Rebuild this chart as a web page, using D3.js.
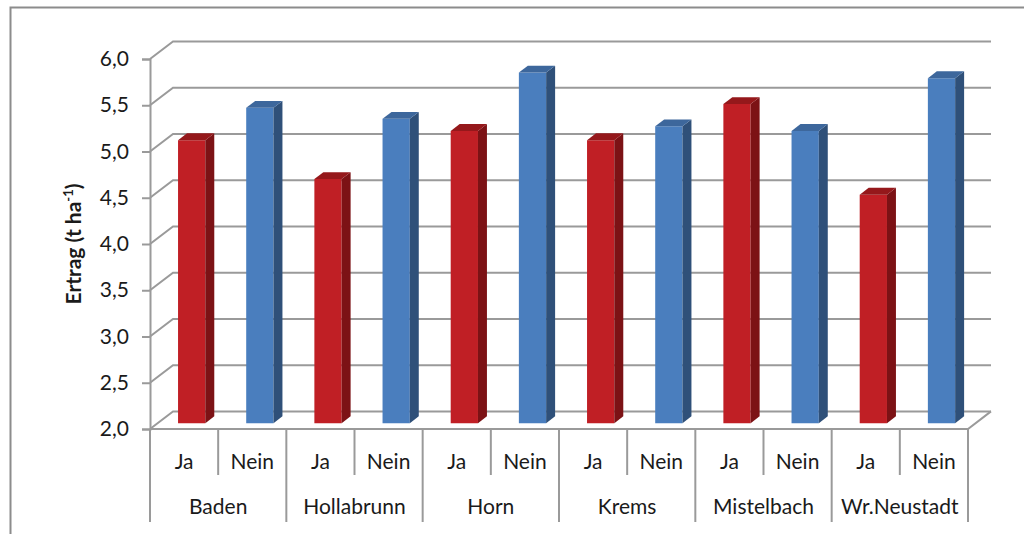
<!DOCTYPE html>
<meta charset="utf-8">
<script src="https://d3js.org/d3.v7.min.js"></script>
<style>
  body { margin: 0; background: #fff; }
  text { font-family: Lato, "Open Sans", sans-serif; fill: #1a1a1a; }
</style>
<div id="chart"></div>
<script>
  // data
  var regions = ["Baden", "Hollabrunn", "Horn", "Krems", "Mistelbach", "Wr.Neustadt"];
  var answers = ["Ja", "Nein"];
  var ertragJa = [5.06, 4.64, 5.16, 5.06, 5.45, 4.47];
  var ertragNein = [5.41, 5.29, 5.79, 5.21, 5.16, 5.73];
  var yTicks = [2.0, 2.5, 3.0, 3.5, 4.0, 4.5, 5.0, 5.5, 6.0];

  var width = 1024, height = 534;
  var svg = d3.select("#chart").append("svg")
    .attr("width", width).attr("height", height);

  // outer frame
  svg.append("path")
    .attr("d", "M10.5," + height + "V7.5H" + width)
    .attr("fill", "none").attr("stroke", "#8c8c8c").attr("stroke-width", 2);

  // plot geometry (front plane)
  var x0 = 150, x1 = 968, yTop = 59, yBot = 429;
  var depthX = 23, depthY = -17.6; // back wall offset

  var y = d3.scaleLinear().domain([2, 6]).range([yBot, yTop]);

  var rows = [];
  regions.forEach(function (r, i) {
    rows.push({ region: r, answer: "Ja", value: ertragJa[i] });
    rows.push({ region: r, answer: "Nein", value: ertragNein[i] });
  });

  var x = d3.scaleBand()
    .domain(d3.range(rows.length))
    .range([x0, x1])
    .paddingInner(0.6).paddingOuter(0.3);
  var slot = d3.scaleBand().domain(d3.range(rows.length)).range([x0, x1]);
  var grp = d3.scaleBand().domain(regions).range([x0, x1]);

  function proj(px, py, f) { return [px + depthX * f, py + depthY * f]; }

  var gridColor = "#9a9a9a";
  var grid = svg.append("g");
  // back wall gridlines with left-side diagonals
  yTicks.forEach(function (t) {
    var p = proj(x0, y(t), 1);
    grid.append("path")
      .attr("d", "M" + x0 + "," + y(t) + "L" + p[0] + "," + p[1] + "H" + (x1 + depthX))
      .attr("fill", "none").attr("stroke", gridColor).attr("stroke-width", 2);
  });
  // floor front edge and right diagonal
  var pr = proj(x1, yBot, 1);
  grid.append("path")
    .attr("d", "M" + x0 + "," + yBot + "H" + x1 + "L" + pr[0] + "," + pr[1])
    .attr("fill", "none").attr("stroke", gridColor).attr("stroke-width", 2);

  // value axis
  var yAxis = svg.append("g")
    .attr("transform", "translate(" + x0 + ",0)")
    .call(d3.axisLeft(y).tickValues(yTicks).tickSize(8).tickPadding(13)
      .tickFormat(function (d) { return d3.format(".1f")(d).replace(".", ","); }));
  yAxis.select(".domain").attr("stroke", gridColor).attr("stroke-width", 2);
  yAxis.selectAll(".tick line").attr("stroke", gridColor).attr("stroke-width", 2);
  yAxis.selectAll(".tick text")
    .style("font-size", "21px").attr("fill", "#1a1a1a")
    .style("font-family", "Lato, sans-serif");

  var title = svg.append("text")
    .attr("transform", "translate(81,244) rotate(-90)")
    .attr("text-anchor", "middle")
    .style("font-size", "21px").style("font-weight", "bold");
  title.append("tspan").text("Ertrag (t ha");
  title.append("tspan").attr("dy", -8).style("font-size", "13px").text("-1");
  title.append("tspan").attr("dy", 8).text(")");

  // bars, drawn as three faces
  var colors = {
    Ja: { front: "#c01f25", side: "#7c1215", top: "#95181b" },
    Nein: { front: "#4a7ebe", side: "#2f5079", top: "#3d679c" }
  };
  var f0 = 0.33, f1 = 0.72;
  var bars = svg.append("g").selectAll("g").data(rows).join("g");
  bars.each(function (d, i) {
    var g = d3.select(this), c = colors[d.answer];
    var bx = x(i), bw = x.bandwidth();
    var a = proj(bx, y(2), f0), b = proj(bx + bw, y(2), f0);
    var at = proj(bx, y(d.value), f0), bt = proj(bx + bw, y(d.value), f0);
    var ct = proj(bx + bw, y(d.value), f1), dt = proj(bx, y(d.value), f1);
    var cb = proj(bx + bw, y(2), f1);
    g.append("path").attr("fill", c.front)
      .attr("d", "M" + a + "L" + b + "L" + bt + "L" + at + "Z");
    g.append("path").attr("fill", c.side)
      .attr("d", "M" + b + "L" + cb + "L" + ct + "L" + bt + "Z");
    g.append("path").attr("fill", c.top)
      .attr("d", "M" + at + "L" + bt + "L" + ct + "L" + dt + "Z");
  });

  // category axis: inner dividers and group dividers
  var cat = svg.append("g");
  rows.forEach(function (d, i) {
    var sx = slot(i);
    if (i % 2 === 1) {
      cat.append("line").attr("x1", sx).attr("x2", sx)
        .attr("y1", yBot).attr("y2", 475)
        .attr("stroke", gridColor).attr("stroke-width", 2);
    }
    cat.append("text")
      .attr("x", sx + slot.bandwidth() / 2).attr("y", 469)
      .attr("text-anchor", "middle").style("font-size", "21px")
      .text(d.answer);
  });
  regions.forEach(function (r) {
    cat.append("line").attr("x1", grp(r)).attr("x2", grp(r))
      .attr("y1", yBot).attr("y2", 522)
      .attr("stroke", gridColor).attr("stroke-width", 2);
    cat.append("text")
      .attr("x", grp(r) + grp.bandwidth() / 2).attr("y", 514)
      .attr("text-anchor", "middle").style("font-size", "21px")
      .text(r);
  });
  cat.append("line").attr("x1", x1).attr("x2", x1)
    .attr("y1", yBot).attr("y2", 522)
    .attr("stroke", gridColor).attr("stroke-width", 2);
</script>
